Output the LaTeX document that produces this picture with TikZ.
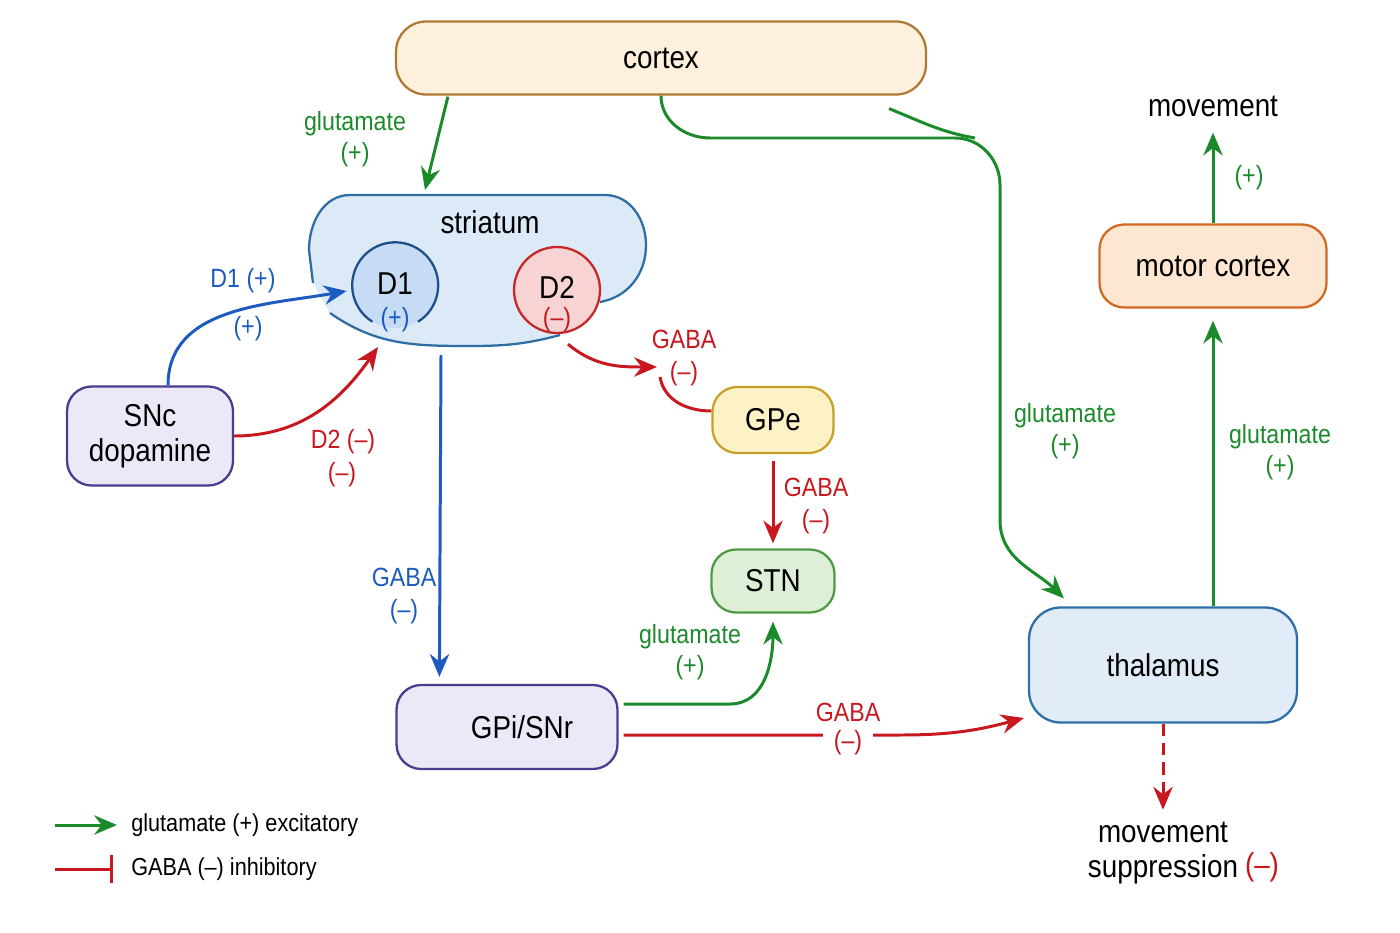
\documentclass[tikz,border=0pt]{standalone}
\usepackage{fontspec}
\setmainfont{Liberation Sans}[FakeStretch=0.88]
\usetikzlibrary{positioning,arrows.meta,calc}
\definecolor{glugreen}{HTML}{1B8A2A}
\definecolor{gabared}{HTML}{C8171E}
\definecolor{dopblue}{HTML}{1E5BC0}
\definecolor{cortexfill}{HTML}{FDF0DC}
\definecolor{cortexline}{HTML}{B07A35}
\definecolor{strfill}{HTML}{DCEAF7}
\definecolor{strline}{HTML}{2F6EA5}
\definecolor{dafill}{HTML}{C6DCF4}
\definecolor{daline}{HTML}{1F4F8A}
\definecolor{dbfill}{HTML}{F8D3D3}
\definecolor{dbline}{HTML}{C62828}
\definecolor{sncfill}{HTML}{ECE8F8}
\definecolor{sncline}{HTML}{4A3C8F}
\definecolor{gpefill}{HTML}{FDF1C6}
\definecolor{gpeline}{HTML}{C9A12A}
\definecolor{stnfill}{HTML}{DDEFD6}
\definecolor{stnline}{HTML}{4F9B43}
\definecolor{thalfill}{HTML}{E1ECF8}
\definecolor{thalline}{HTML}{2F6FA8}
\definecolor{motorfill}{HTML}{FDE7D3}
\definecolor{motorline}{HTML}{D2691E}

\begin{document}
\begin{tikzpicture}[x=0.02cm, y=-0.02cm,
  box/.style={rounded corners=14pt, line width=1.3pt, inner sep=0pt, align=center,
    font=\fontsize{18}{20}\selectfont},
  big/.style={font=\fontsize{18}{20}\selectfont, align=center},
  lbl/.style={font=\fontsize{15}{18}\selectfont, align=center},
  glu/.style={draw=glugreen, line width=1.7pt},
  gaba/.style={draw=gabared, line width=1.7pt},
  dop/.style={draw=dopblue, line width=1.7pt},
  arr/.style={-{Stealth[length=13pt,width=11pt]}}]
\useasboundingbox (0,0) rectangle (1400,933);
% striatum blob
\fill[strfill] (313,283) -- (309,250) to[out=90,in=180] (350,195) -- (605,195)
  to[out=0,in=90] (646,245) to[out=-90,in=10] (600,302) -- (560,335)
  to[out=195,in=0] (470,346) to[out=180,in=-35] (330,313) -- cycle;
\draw[strline, line width=1.3pt] (313,283) -- (309,250) to[out=90,in=180] (350,195) -- (605,195)
  to[out=0,in=90] (646,245) to[out=-90,in=10] (600,302);
\draw[strline, line width=1.3pt] (330,313) to[out=-35,in=180] (470,346) to[out=0,in=195] (560,335);
\node[big] (striatum) at (490,222) {striatum};
\coordinate (strtop) at (425,190);
\coordinate (strd2in) at (378,347);
\coordinate (strout) at (441,355);
% D1 / D2
\node[circle, fill=dafill, minimum size=1.72cm, inner sep=0pt] (d1) at (395,285) {};
\draw[daline, line width=1.3pt] (d1.-58) arc[start angle=-58, end angle=238, radius=0.86cm];
\node[big, inner sep=1pt] (d1text) at (395,284) {D1};
\node[lbl, text=dopblue, inner sep=1pt] (d1sign) at (395,320) {(+)};
\node[circle, fill=dbfill, draw=dbline, line width=1.3pt, minimum size=1.72cm, inner sep=0pt] (d2) at (557,290) {};
\node[big, inner sep=1pt] (d2text) at (557,287) {D2};
\node[lbl, text=gabared, inner sep=1pt] (d2sign) at (557,320) {(--)};
% boxes
\node[box, fill=cortexfill, draw=cortexline, rounded corners=17pt, minimum width=10.6cm, minimum height=1.46cm] (cortex) at (661,58) {cortex};
\node[box, fill=sncfill, draw=sncline, minimum width=3.32cm, minimum height=1.98cm] (snc) at (150,436) {SNc\\dopamine};
\node[box, fill=gpefill, draw=gpeline, minimum width=2.42cm, minimum height=1.32cm] (gpe) at (773,420) {GPe};
\node[box, fill=stnfill, draw=stnline, minimum width=2.46cm, minimum height=1.26cm] (stn) at (773,581) {STN};
\node[box, fill=sncfill, draw=sncline, minimum width=4.42cm, minimum height=1.68cm] (gpi) at (507,727) {\hspace*{0.6cm}GPi/SNr};
\node[box, fill=thalfill, draw=thalline, rounded corners=18pt, minimum width=5.36cm, minimum height=2.3cm] (thalamus) at (1163,665) {thalamus};
\node[box, fill=motorfill, draw=motorline, minimum width=4.54cm, minimum height=1.66cm] (motor) at (1213,266) {motor cortex};
\node[big] (movement) at (1213,106) {movement};
\node[big] (supp) at (1163,853) {movement\\suppression};
\node[lbl, text=gabared, font=\fontsize{18}{20}\selectfont] (suppsign) at (1262,867) {(--)};
% connectors
\draw[glu, arr] ($(cortex.south west)+(53,1)$) -- (strtop);
\draw[glu, arr] (cortex.south) to[out=-90,in=180] (710,138) -- (955,138)
  to[out=0,in=90] (1000,185) -- (1000,520) to[out=-90,in=135] ($(thalamus.north west)+(36,-8)$);
\draw[glu] ($(cortex.south east)+(-38,13)$) to[out=-22,in=170] (975,138);
\draw[dop, arr] ($(snc.north)+(18,0)$) to[out=90,in=190] ($(d1.west)+(-5,6)$);
\draw[gaba, arr] (snc.east) to[out=0,in=-125] (strd2in);
\coordinate (gpein) at (657,367);
\draw[gaba, arr] ($(d2.south)+(11,10)$) to[out=-40,in=180] (gpein);
\draw[gaba] ($(gpein)+(3,10)$) to[out=-80,in=180] ($(gpe.west)+(0,-9)$);
\draw[dop, arr] (strout) -- ($(gpi.north west)+(44,-7)$);
\draw[gaba, arr] ($(gpe.south)+(0,7)$) -- ($(stn.north)+(0,-5)$);
\draw[glu, arr] ($(gpi.east)+(5,-23)$) -- (730,704) to[out=0,in=-90] ($(stn.south)+(0,8)$);
\draw[gaba, arr] ($(gpi.east)+(5,8)$) -- (900,735) to[out=0,in=195] ($(thalamus.west)+(-4,53)$);
\draw[glu, arr] (motor.south |- thalamus.north) -- ($(motor.south)+(0,12)$);
\draw[glu, arr] (motor.north) -- ($(movement.south)+(0,10)$);
\draw[gaba, arr, dashed, dash pattern=on 7pt off 4pt] (thalamus.south) -- ($(supp.north)+(0,-6)$);
% labels
\node[lbl, text=glugreen] (l1) at (355,139) {glutamate\\(+)};
\node[lbl, text=dopblue] (l2) at (243,281) {D1 (+)};
\node[lbl, text=dopblue] (l3) at (248,329) {(+)};
\node[lbl, text=gabared] (l4) at (343,442) {D2 (--)};
\node[lbl, text=gabared] (l5) at (342,475) {(--)};
\node[lbl, text=gabared] (l6) at (684,358) {GABA\\(--)};
\node[lbl, text=dopblue] (l7) at (404,596) {GABA\\(--)};
\node[lbl, text=gabared] (l8) at (816,506) {GABA\\(--)};
\node[lbl, text=glugreen] (l9) at (690,652) {glutamate\\(+)};
\node[lbl, text=gabared] (l10) at (848,712) {GABA};
\node[lbl, text=gabared, fill=white, inner xsep=6pt] (l11) at (848,743) {(--)};
\node[lbl, text=glugreen] (l12) at (1065,431) {glutamate\\(+)};
\node[lbl, text=glugreen] (l13) at (1280,452) {glutamate\\(+)};
\node[lbl, text=glugreen] (l14) at (1249,178) {(+)};
% legend
\coordinate (lg1) at (55,825);
\coordinate (lg2) at (55,869);
\node[anchor=west, inner sep=0pt, font=\fontsize{14}{16}\selectfont] (lgt1) at (131,825) {glutamate (+) excitatory};
\node[anchor=west, inner sep=0pt, font=\fontsize{14}{16}\selectfont] (lgt2) at (131,869) {GABA (--) inhibitory};
\draw[glu, arr] (lg1) -- ($(lgt1.west)+(-14,0)$);
\draw[gaba, -{Bar[width=16pt]}] (lg2) -- ($(lgt2.west)+(-18,0)$);
\end{tikzpicture}
\end{document}
